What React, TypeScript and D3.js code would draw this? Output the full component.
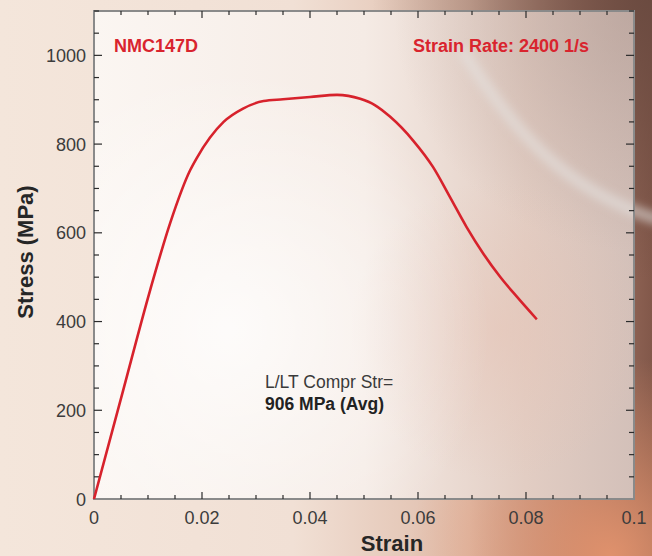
import React from 'react';
import * as d3 from 'd3';

// stress-strain curve
const strain = [0, 0.0054, 0.0104, 0.0141, 0.0178, 0.019, 0.024, 0.0276, 0.0314, 0.035, 0.04, 0.045, 0.0493, 0.052, 0.0548, 0.0591, 0.0628, 0.0659, 0.069, 0.0721, 0.0752, 0.0783, 0.082];
const stress = [0, 245, 471, 622, 741, 768, 850, 880, 897, 901, 906, 911, 902, 888, 862, 808, 748, 681, 613, 553, 501, 456, 405];

const xMajor = [0, 0.02, 0.04, 0.06, 0.08, 0.1];
const xLabels = ['0', '0.02', '0.04', '0.06', '0.08', '0.1'];
const yMajor = [0, 200, 400, 600, 800, 1000];

const W = 652;
const H = 556;
const margin = { top: 11, right: 18, bottom: 57, left: 94 };

const App: React.FC = () => {
  const x = d3.scaleLinear().domain([0, 0.1]).range([margin.left, W - margin.right]);
  const y = d3.scaleLinear().domain([0, 1100]).range([H - margin.bottom, margin.top]);

  const [x0, x1] = x.range();
  const [y0, y1] = y.range();

  const xMinor = d3.range(0, 0.1001, 0.005).filter(v => !xMajor.some(m => Math.abs(m - v) < 1e-9));
  const yMinor = d3.range(0, 1100.1, 50).filter(v => v % 200 !== 0);

  const pts = strain.map((s, i) => [s, stress[i]] as [number, number]);
  const line = d3.line<[number, number]>()
    .x(d => x(d[0]))
    .y(d => y(d[1]))
    .curve(d3.curveMonotoneX);

  const tickColor = '#2b2b2b';
  const font = '"Liberation Sans", Arial, Helvetica, sans-serif';

  return (
    <svg width={W} height={H} style={{ position: 'fixed', left: 0, top: 0 }} fontFamily={font}>
      <defs>
        <linearGradient id="bg" x1="0" y1="0" x2="1" y2="0">
          <stop offset="0" stopColor="#f4e6db" />
          <stop offset="0.45" stopColor="#f1e0d5" />
          <stop offset="0.72" stopColor="#dfbcaa" />
          <stop offset="0.9" stopColor="#a67868" />
          <stop offset="1" stopColor="#82584a" />
        </linearGradient>
        <radialGradient id="tr" cx={W} cy={0} r={280} gradientUnits="userSpaceOnUse">
          <stop offset="0" stopColor="#6a4a40" stopOpacity="0.95" />
          <stop offset="1" stopColor="#6a4a40" stopOpacity="0" />
        </radialGradient>
        <radialGradient id="br" cx={610} cy={H} r={200} gradientUnits="userSpaceOnUse">
          <stop offset="0" stopColor="#e3936d" stopOpacity="0.95" />
          <stop offset="1" stopColor="#e3936d" stopOpacity="0" />
        </radialGradient>
        <linearGradient id="plot" x1="0" y1="0" x2="1" y2="0">
          <stop offset="0" stopColor="#fbf6f2" />
          <stop offset="0.5" stopColor="#f5ebe5" />
          <stop offset="0.8" stopColor="#e2cdc3" />
          <stop offset="1" stopColor="#d3c0b9" />
        </linearGradient>
        <radialGradient id="glow" cx={230} cy={330} r={260} gradientUnits="userSpaceOnUse">
          <stop offset="0" stopColor="#ffffff" stopOpacity="0.75" />
          <stop offset="1" stopColor="#ffffff" stopOpacity="0" />
        </radialGradient>
        <radialGradient id="pink" cx={500} cy={330} r={150} gradientUnits="userSpaceOnUse">
          <stop offset="0" stopColor="#e6c4b6" stopOpacity="0.55" />
          <stop offset="1" stopColor="#e6c4b6" stopOpacity="0" />
        </radialGradient>
        <radialGradient id="ptr" cx={x1} cy={y1} r={240} gradientUnits="userSpaceOnUse">
          <stop offset="0" stopColor="#a89088" stopOpacity="0.5" />
          <stop offset="1" stopColor="#a89088" stopOpacity="0" />
        </radialGradient>
        <filter id="blur" x="-20%" y="-20%" width="140%" height="140%">
          <feGaussianBlur stdDeviation="4" />
        </filter>
      </defs>

      {/* background */}
      <rect width={W} height={H} fill="url(#bg)" />
      <rect width={W} height={H} fill="url(#tr)" />
      <rect width={W} height={H} fill="url(#br)" />

      {/* plot area */}
      <rect x={x0} y={y1} width={x1 - x0} height={y0 - y1} fill="url(#plot)" />
      <rect x={x0} y={y1} width={x1 - x0} height={y0 - y1} fill="url(#ptr)" />
      <rect x={x0} y={y1} width={x1 - x0} height={y0 - y1} fill="url(#pink)" />
      <rect x={x0} y={y1} width={x1 - x0} height={y0 - y1} fill="url(#glow)" />

      {/* light streak */}
      <path d="M 462 50 C 510 125, 560 190, 660 220" fill="none" stroke="#e6e4e2" strokeOpacity={0.55}
        strokeWidth={12} filter="url(#blur)" />

      {/* frame */}
      <rect x={x0} y={y1} width={x1 - x0} height={y0 - y1} fill="none" stroke="#8a8a8a" strokeWidth={2} />

      {/* x ticks, bottom and top */}
      {xMajor.slice(1, -1).map(v => (
        <g key={'xM' + v}>
          <line x1={x(v)} x2={x(v)} y1={y0} y2={y0 - 7} stroke={tickColor} strokeWidth={1.2} />
          <line x1={x(v)} x2={x(v)} y1={y1} y2={y1 + 7} stroke={tickColor} strokeWidth={1.2} />
        </g>
      ))}
      {xMinor.map(v => (
        <g key={'xm' + v}>
          <line x1={x(v)} x2={x(v)} y1={y0} y2={y0 - 4} stroke={tickColor} strokeWidth={1.2} />
          <line x1={x(v)} x2={x(v)} y1={y1} y2={y1 + 4} stroke={tickColor} strokeWidth={1.2} />
        </g>
      ))}

      {/* y ticks, left and right */}
      {yMajor.slice(1).map(v => (
        <g key={'yM' + v}>
          <line x1={x0} x2={x0 + 8} y1={y(v)} y2={y(v)} stroke={tickColor} strokeWidth={1.2} />
          <line x1={x1} x2={x1 - 8} y1={y(v)} y2={y(v)} stroke={tickColor} strokeWidth={1.2} />
        </g>
      ))}
      {yMinor.map(v => (
        <g key={'ym' + v}>
          <line x1={x0} x2={x0 + 5} y1={y(v)} y2={y(v)} stroke={tickColor} strokeWidth={1.2} />
          <line x1={x1} x2={x1 - 5} y1={y(v)} y2={y(v)} stroke={tickColor} strokeWidth={1.2} />
        </g>
      ))}

      {/* tick labels */}
      {xMajor.map((v, i) => (
        <text key={'xl' + v} x={x(v)} y={y0 + 25} textAnchor="middle" fontSize={18} fill="#3c3c3c">
          {xLabels[i]}
        </text>
      ))}
      {yMajor.map(v => (
        <text key={'yl' + v} x={x0 - 8} y={y(v) + 6.5} textAnchor="end" fontSize={18} fill="#3c3c3c">
          {v}
        </text>
      ))}

      {/* axis titles */}
      <text x={(x0 + x1) / 2 + 28} y={551} textAnchor="middle" fontSize={22} fontWeight="bold" fill="#262626">
        Strain
      </text>
      <text transform={`translate(33, 252) rotate(-90)`} textAnchor="middle" fontSize={22} fontWeight="bold" fill="#262626">
        Stress (MPa)
      </text>

      {/* curve */}
      <path d={line(pts) || ''} fill="none" stroke="#d7222c" strokeWidth={2.6} strokeLinecap="butt" />

      {/* annotations */}
      <text x={114} y={52} fontSize={18} fontWeight="bold" fill="#d9242e">NMC147D</text>
      <text x={589} y={52} textAnchor="end" fontSize={18} fontWeight="bold" fill="#d9242e">Strain Rate: 2400 1/s</text>
      <text x={265} y={388} fontSize={17.5} fill="#3a3a3a">L/LT Compr Str=</text>
      <text x={265} y={410} fontSize={17.5} fontWeight="bold" fill="#222">906 MPa (Avg)</text>
    </svg>
  );
};

export default App;
